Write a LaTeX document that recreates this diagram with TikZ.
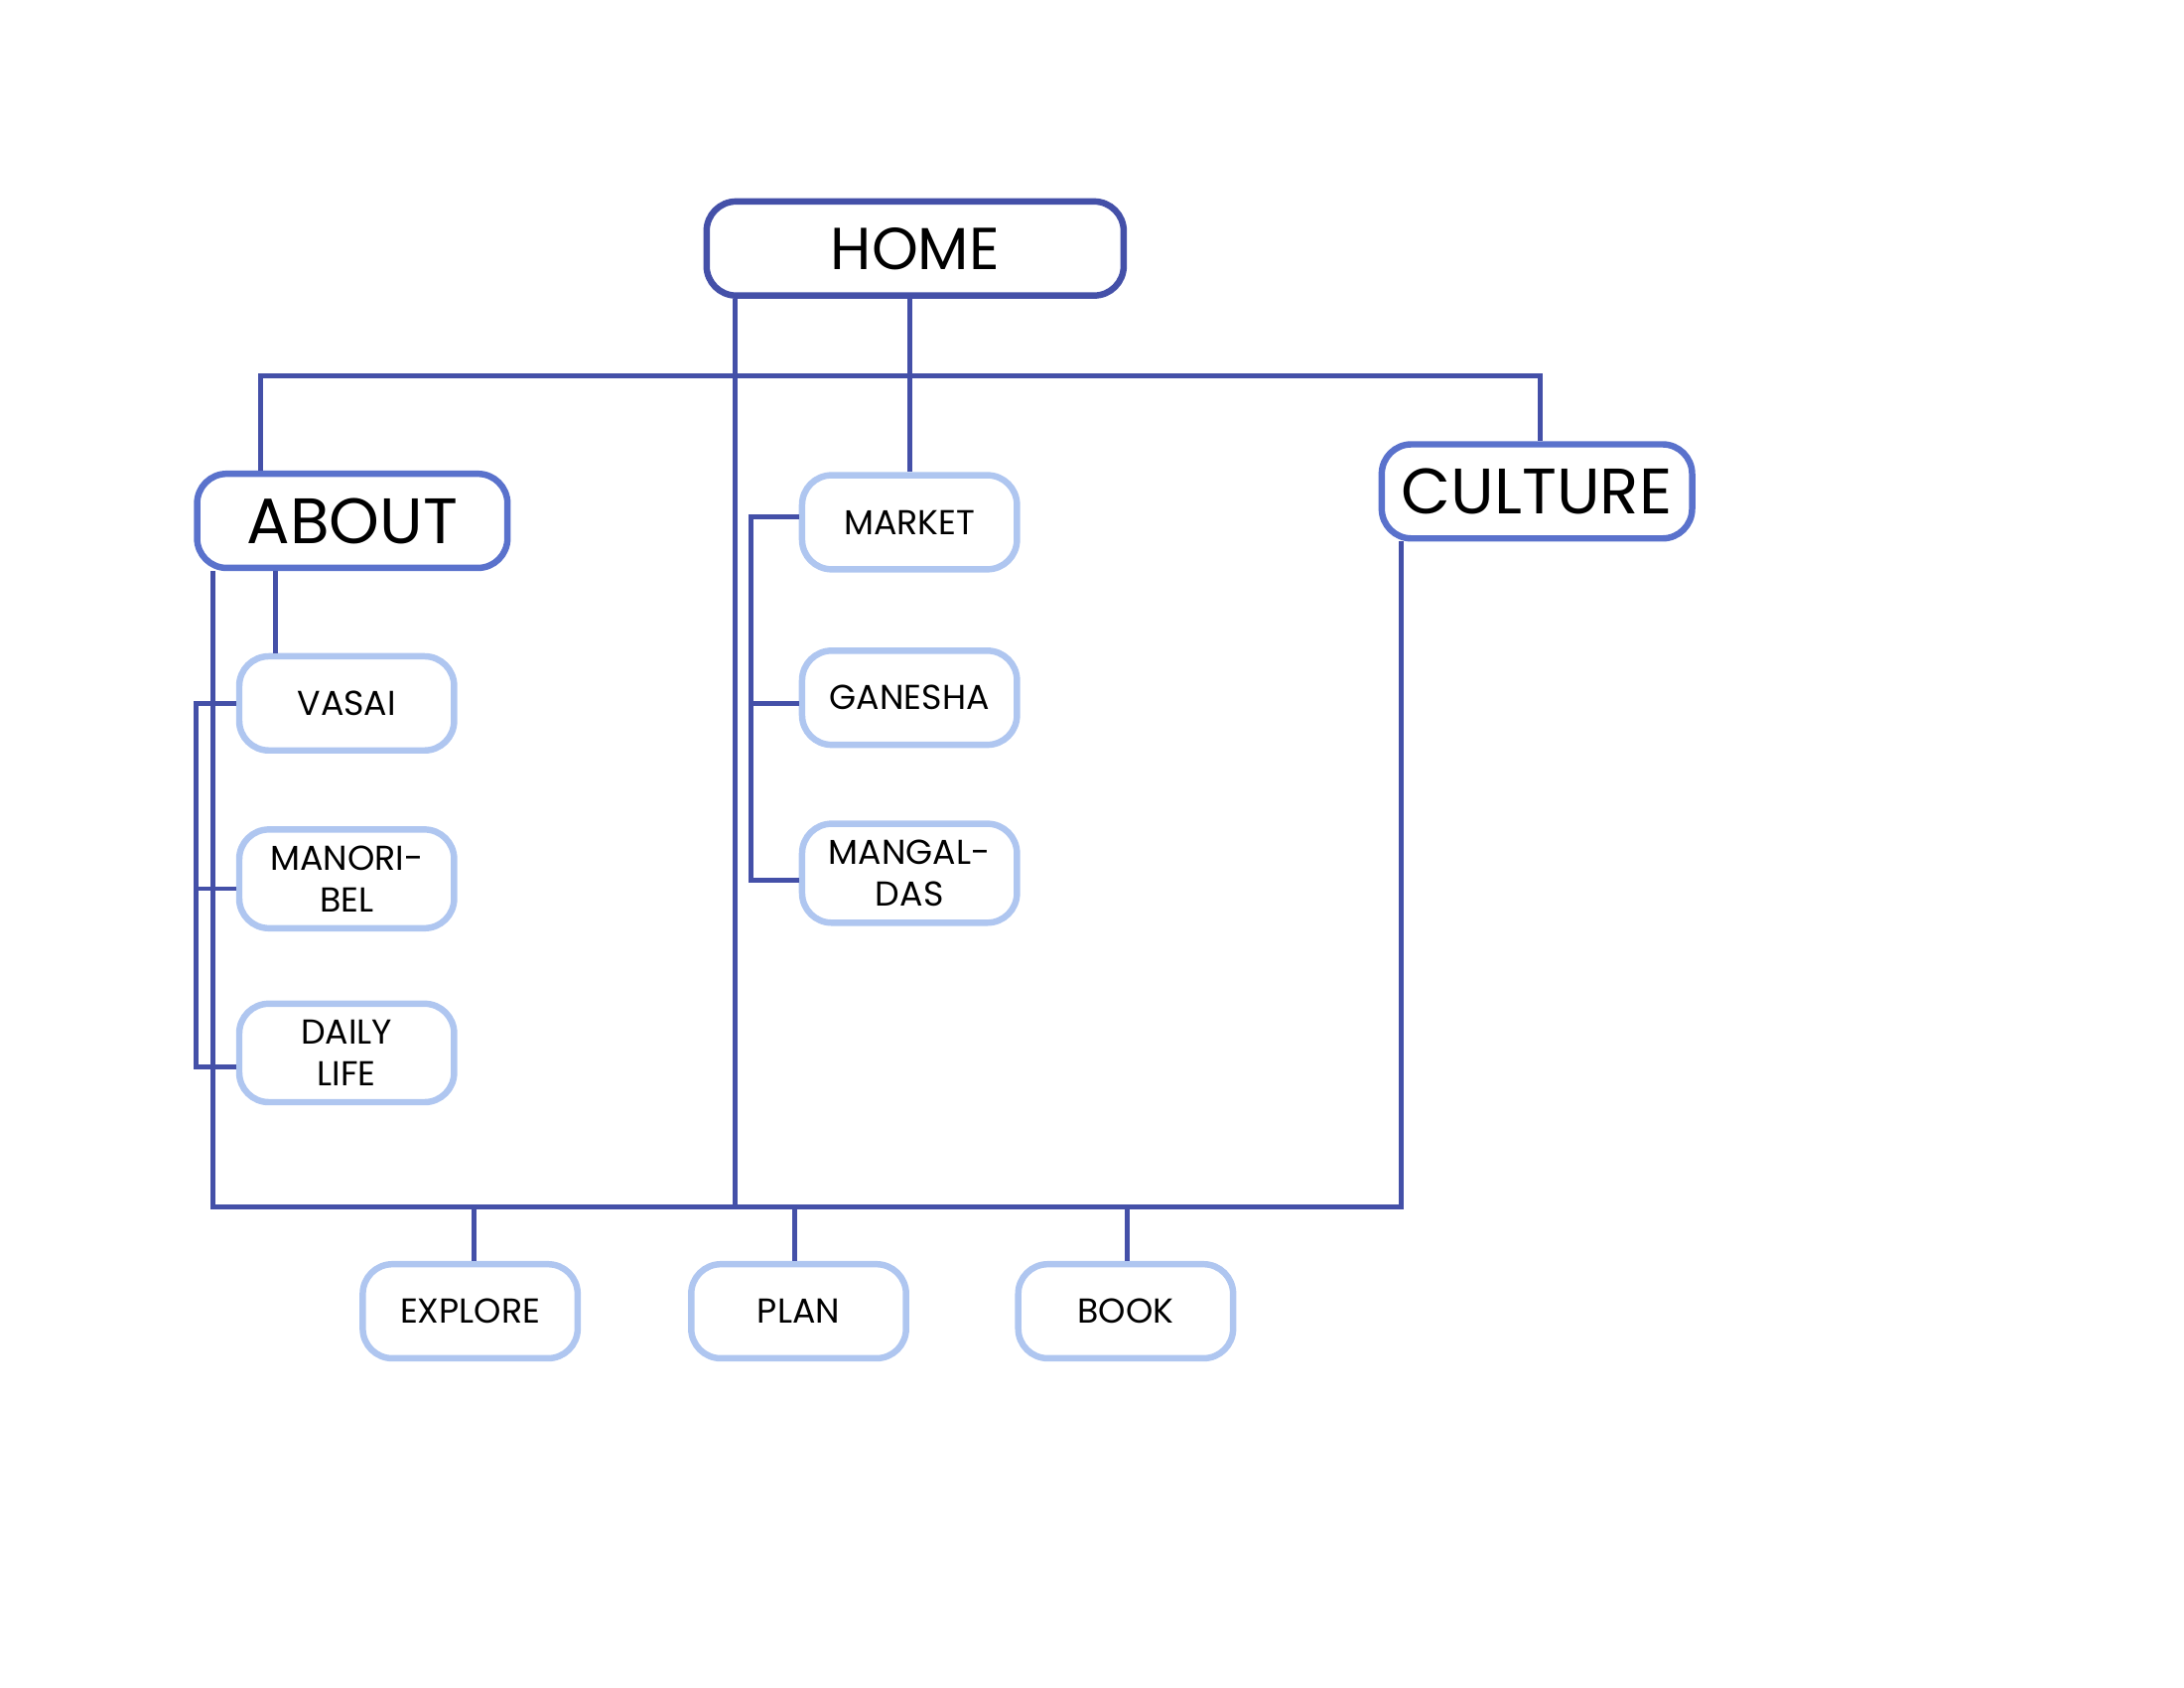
\documentclass[tikz,border=0pt]{standalone}
\usepackage{fontspec}
\setmainfont{Poppins}
\usetikzlibrary{positioning}
\definecolor{linkblue}{HTML}{4450A8}
\definecolor{midblue}{HTML}{5A72CC}
\definecolor{paleblue}{HTML}{AFC6F0}
\begin{document}
\begin{tikzpicture}[x=0.01cm,y=-0.01cm,line width=1pt]
	\tikzstyle{top}=[draw=linkblue,line width=1.3pt,rounded corners=6pt,minimum width=2.97cm,minimum height=0.67cm,font=\fontsize{12}{12}\selectfont]
	\tikzstyle{sect}=[draw=midblue,line width=1.3pt,rounded corners=6pt,minimum width=2.21cm,minimum height=0.67cm,font=\fontsize{13}{13}\selectfont]
	\tikzstyle{page}=[draw=paleblue,line width=1.3pt,rounded corners=6pt,minimum width=1.53cm,minimum height=0.67cm,align=center,font=\fontsize{7}{8.4}\selectfont]
	\tikzstyle{link}=[draw=linkblue]
	\useasboundingbox (0,0) rectangle (1556,1202);
	\node[top] (home) at (652,177) {HOME};
	\node[sect] (about) at (251,371) {ABOUT};
	\node[sect] (culture) at (1095,350) {CULTURE};
	\node[page] (vasai) at (247,501) {VASAI};
	\node[page] (manori) at (247,626) {MANORI-\\BEL};
	\node[page] (daily) at (247,750) {DAILY\\LIFE};
	\node[page] (market) at (648,372) {MARKET};
	\node[page] (ganesha) at (648,497) {GANESHA};
	\node[page] (mangal) at (648,622) {MANGAL-\\DAS};
	\node[page] (explore) at (335,934) {EXPLORE};
	\node[page] (plan) at (569,934) {PLAN};
	\node[page] (book) at (802,934) {BOOK};
	% top level
	\coordinate (bl) at (152,860);
	\coordinate (br) at (998,860);
	\draw[link] (home.south -| market.north) -- (market.north);
	\draw[link] (about.north -| 186,0) -- (186,268) -- (1097,268) -- (culture.north -| 1097,0);
	\draw[link] (home.south -| 524,0) -- (524,860);
	\draw[link] (about.south -| bl) -- (bl) -- (br) -- (culture.south -| br);
	\draw[link] (explore.north -| 338,0) -- (338,860);
	\draw[link] (plan.north -| 566,0) -- (566,860);
	\draw[link] (book.north -| 803,0) -- (803,860);
	% about
	\draw[link] (about.south -| 196,0) -- (vasai.north -| 196,0);
	\draw[link] (vasai.west) -- (140,501) -- (140,760) -- (daily.west |- 0,760);
	\draw[link] (manori.west |- 0,633) -- (140,633);
	% culture
	\draw[link] (market.west |- 0,368) -- (535,368) -- (535,627) -- (mangal.west |- 0,627);
	\draw[link] (ganesha.west |- 0,501) -- (535,501);
\end{tikzpicture}
\end{document}
